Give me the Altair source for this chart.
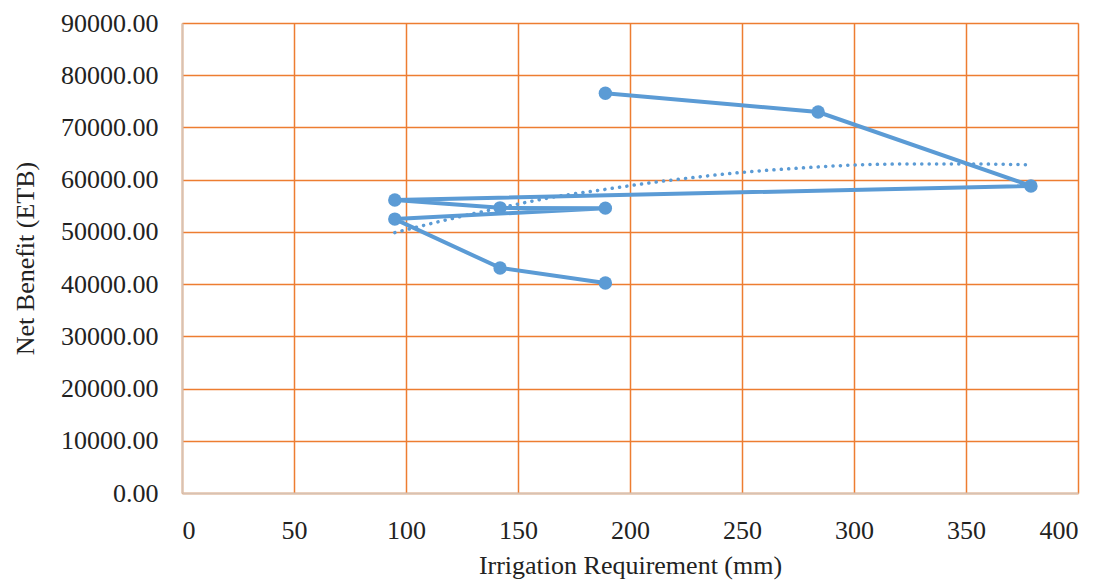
import altair as alt
import pandas as pd

# observed series (connected in this order)
irrigation = [189, 284, 379, 95, 142, 189, 95, 142, 189]
net_benefit = [76550, 72950, 58800, 56100, 54600, 54550, 52450, 43100, 40200]

# polynomial trend line
trend_x = [95, 120, 142, 165, 189, 210, 230, 250, 275, 300, 325, 350, 379]
trend_y = [49850, 52500, 54600, 56600, 58150, 59450, 60500, 61400, 62200, 62800, 63000, 63000, 62850]

x_ticks = [0, 50, 100, 150, 200, 250, 300, 350, 400]
y_ticks = [0, 10000, 20000, 30000, 40000, 50000, 60000, 70000, 80000, 90000]

obs = pd.DataFrame({"x": irrigation, "y": net_benefit, "order": list(range(len(irrigation)))})
trend = pd.DataFrame({"x": trend_x, "y": trend_y})

FONT = "Liberation Serif"
BLUE = "#5B9BD5"

x_enc = alt.X("x:Q", scale=alt.Scale(domain=[0, 400], nice=False),
              axis=alt.Axis(values=x_ticks, title="Irrigation Requirement (mm)",
                            grid=True, gridColor="#ED7D31", gridWidth=1.5,
                            domainColor="#D8C2B2", domainWidth=2, ticks=False,
                            labelPadding=24, labelFontSize=26, labelFont=FONT,
                            labelColor="#222222", titleFont=FONT, titleFontSize=26,
                            titleFontWeight="normal", titleColor="#222222", titlePadding=9))
y_enc = alt.Y("y:Q", scale=alt.Scale(domain=[0, 90000], nice=False),
              axis=alt.Axis(values=y_ticks, format=".2f", title="Net Benefit (ETB)",
                            grid=True, gridColor="#ED7D31", gridWidth=1.5,
                            domainColor="#D8C2B2", domainWidth=2, ticks=False,
                            labelPadding=24, labelFontSize=26, labelFont=FONT,
                            labelColor="#222222", titleFont=FONT, titleFontSize=26,
                            titleFontWeight="normal", titleColor="#222222", titlePadding=22))

line = alt.Chart(obs).mark_line(color=BLUE, strokeWidth=4).encode(
    x=x_enc, y=y_enc, order="order:Q")
pts = alt.Chart(obs).mark_point(color=BLUE, filled=True, opacity=1, size=180).encode(
    x="x:Q", y="y:Q")
tr = alt.Chart(trend).mark_line(color=BLUE, strokeWidth=3.5, strokeDash=[0.1, 7.3],
                                strokeCap="round", interpolate="monotone").encode(
    x="x:Q", y="y:Q")

chart = alt.layer(tr, line, pts).properties(
    width=896, height=470,
    autosize=alt.AutoSizeParams(type="none"),
    padding={"left": 182, "top": 23, "right": 21, "bottom": 89},
).configure_view(stroke=None).configure(background="white")

chart.save("out.html", embed_options={"renderer": "svg", "actions": False})
